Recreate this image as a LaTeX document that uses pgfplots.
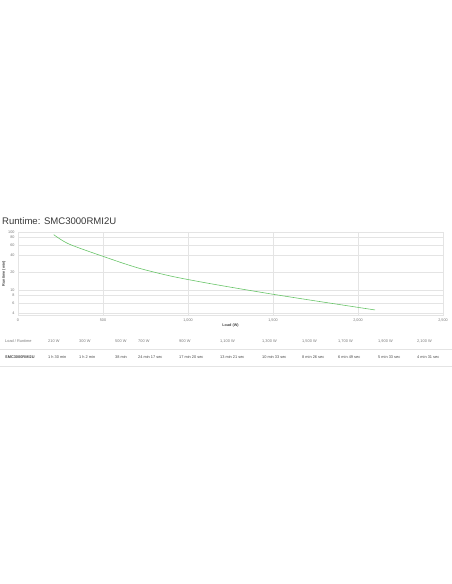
\documentclass[border=0pt]{standalone}
\usepackage{pgfplots}
\pgfplotsset{compat=1.18}
\usepackage{fontspec}
\setmainfont{Liberation Sans}
\definecolor{gridgray}{RGB}{228,228,228}
\definecolor{curvegreen}{RGB}{104,196,104}
\definecolor{titlegray}{RGB}{55,55,55}
\definecolor{labelgray}{RGB}{120,120,120}
\definecolor{rowgray}{RGB}{70,70,70}

\begin{document}
\begin{tikzpicture}[x=1bp,y=1bp]
\useasboundingbox (0,0) rectangle (452,584);
% title
\node[anchor=base west, inner sep=0, text=titlegray,
      font=\fontsize{9.6}{10}\selectfont] at (2,359) {Runtime: SMC3000RMI2U};

\begin{axis}[
    at={(18bp,269bp)}, anchor=south west,
    scale only axis, width=425bp, height=83bp,
    xmin=0, xmax=2500,
    ymode=log, ymin=3.7, ymax=100,
    xtick={0,500,...,2500},
    ytick={4,6,8,10,20,40,60,80,100},
    log ticks with fixed point,
    xticklabel style={/pgf/number format/1000 sep={,}},
    grid=major,
    major grid style={gridgray, line width=0.4bp},
    axis line style={gridgray, line width=0.4bp},
    tick style={draw=none},
    ticklabel style={font=\fontsize{3.8}{4}\selectfont, text=labelgray},
    /pgf/number format/assume math mode=true,
    xlabel={Load (W)},
    ylabel={Runtime (min)},
    label style={font=\bfseries\fontsize{3.8}{4}\selectfont, text=rowgray},
    xlabel style={at={(axis description cs:0.5,-0.13)}, anchor=center},
    ylabel style={at={(axis description cs:-0.033,0.5)}, anchor=center},
    clip=false,
]
\addplot[curvegreen, line width=0.6bp, smooth, no marks] coordinates {
    (210,90) (300,62) (500,38) (700,24.28) (900,17.33) (1100,13.35)
    (1300,10.55) (1500,8.43) (1700,6.82) (1900,5.55) (2100,4.52)};
\end{axis}

% runtime table
\draw[gridgray, line width=0.4bp] (0,584-349) -- (452,584-349);
\draw[gridgray, line width=0.4bp] (0,584-366) -- (452,584-366);
\begin{scope}[every node/.style={anchor=west, inner sep=0,
      font=\fontsize{3.9}{4}\selectfont}]
\node[text=labelgray] at (5,584-341) {Load / Runtime};
\node[text=labelgray] at (48,584-341) {210 W};
\node[text=labelgray] at (79,584-341) {300 W};
\node[text=labelgray] at (115,584-341) {500 W};
\node[text=labelgray] at (138,584-341) {700 W};
\node[text=labelgray] at (179,584-341) {900 W};
\node[text=labelgray] at (220,584-341) {1,100 W};
\node[text=labelgray] at (262,584-341) {1,300 W};
\node[text=labelgray] at (302,584-341) {1,500 W};
\node[text=labelgray] at (338,584-341) {1,700 W};
\node[text=labelgray] at (378,584-341) {1,900 W};
\node[text=labelgray] at (417,584-341) {2,100 W};
\node[text=rowgray, font=\bfseries\fontsize{3.9}{4}\selectfont] at (5,584-357) {SMC3000RMI2U};
\node[text=rowgray] at (48,584-357) {1 h 30 min};
\node[text=rowgray] at (79,584-357) {1 h 2 min};
\node[text=rowgray] at (115,584-357) {38 min};
\node[text=rowgray] at (138,584-357) {24 min 17 sec};
\node[text=rowgray] at (179,584-357) {17 min 20 sec};
\node[text=rowgray] at (220,584-357) {13 min 21 sec};
\node[text=rowgray] at (262,584-357) {10 min 33 sec};
\node[text=rowgray] at (302,584-357) {8 min 26 sec};
\node[text=rowgray] at (338,584-357) {6 min 49 sec};
\node[text=rowgray] at (378,584-357) {5 min 33 sec};
\node[text=rowgray] at (417,584-357) {4 min 31 sec};
\end{scope}
\end{tikzpicture}
\end{document}
